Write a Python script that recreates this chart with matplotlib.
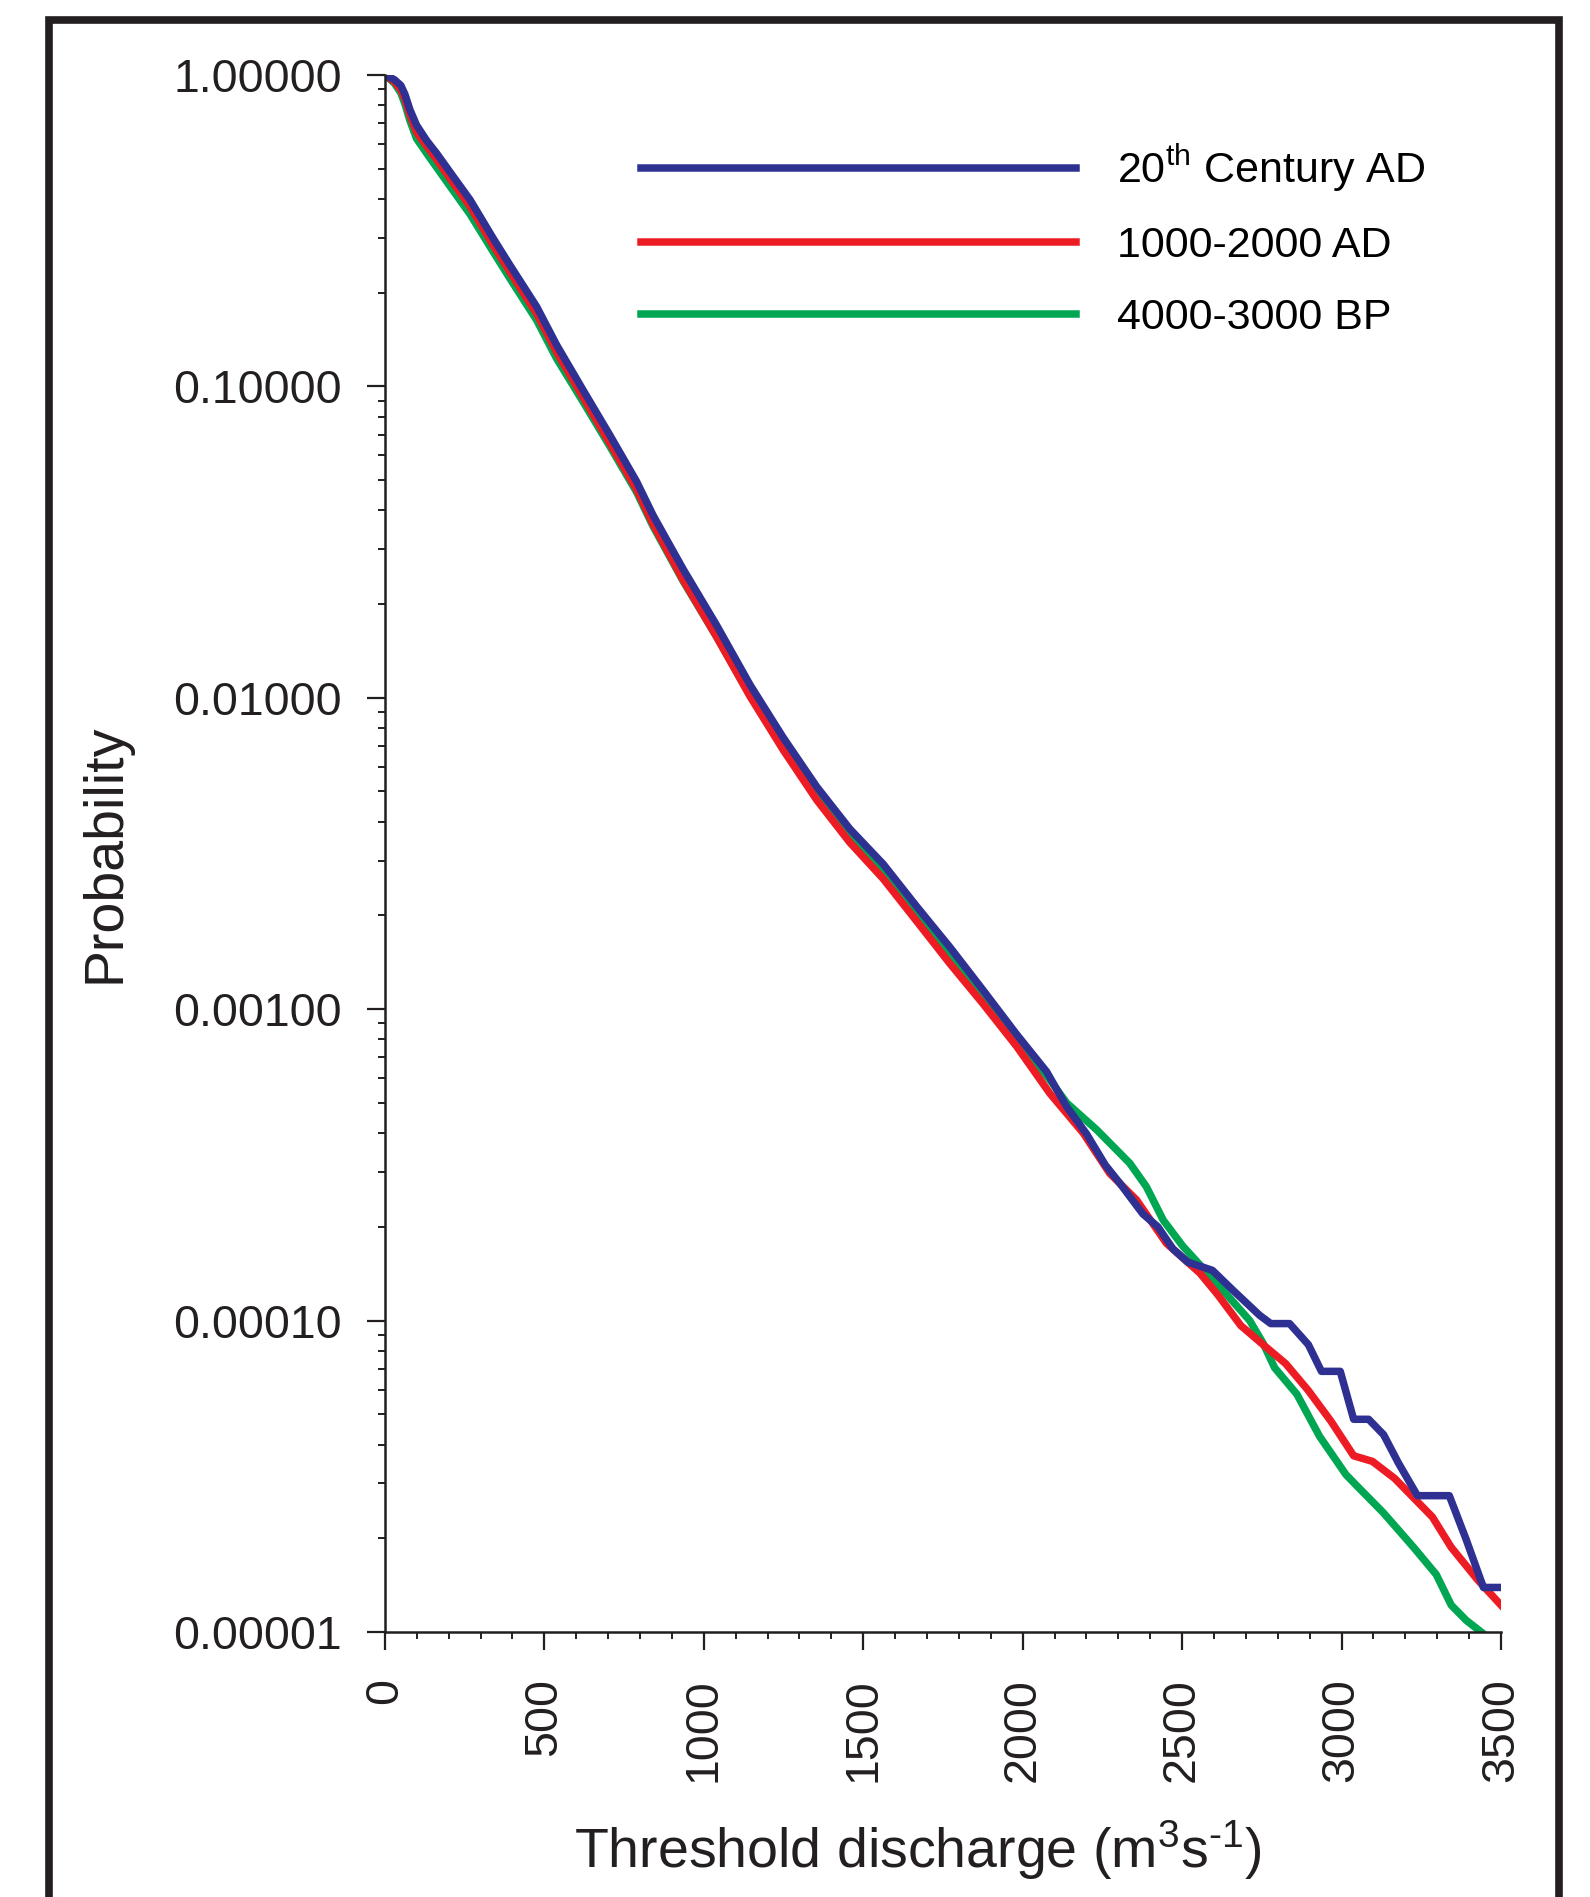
import numpy as np
import matplotlib
matplotlib.use("Agg")
import matplotlib.pyplot as plt
from matplotlib.patches import Rectangle
from matplotlib.ticker import MultipleLocator, LogLocator, FormatStrFormatter, NullFormatter

plt.rcParams["font.family"] = ["Liberation Sans", "DejaVu Sans"]
plt.rcParams["mathtext.fontset"] = "custom"
plt.rcParams["mathtext.rm"] = "Liberation Sans"
plt.rcParams["mathtext.it"] = "Liberation Sans:italic"

# exceedance probability vs threshold discharge
q_20th = [0, 30, 50, 63, 78, 99, 131, 162, 214, 267, 340, 392, 476, 538, 622, 706, 789,
          841, 935, 1040, 1145, 1249, 1354, 1458, 1563, 1667, 1772, 1876, 1981, 2075,
          2138, 2200, 2259, 2306, 2377, 2424, 2471, 2518, 2595, 2660, 2743, 2778, 2837,
          2896, 2937, 2996, 3038, 3085, 3132, 3179, 3238, 3338, 3391, 3445, 3500]
p_20th = [1.0, 0.965, 0.925, 0.865, 0.775, 0.69, 0.615, 0.56, 0.472, 0.397, 0.298, 0.245,
          0.18, 0.136, 0.097, 0.0695, 0.0495, 0.0385, 0.0259, 0.0171, 0.011, 0.00745,
          0.00518, 0.00379, 0.00292, 0.00214, 0.00158, 0.00115, 0.00083, 0.00063,
          0.000486, 0.000398, 0.000316, 0.000275, 0.00022, 0.0002, 0.00017, 0.000154,
          0.000145, 0.000125, 0.000104, 0.0000978, 0.0000978, 0.0000837, 0.0000687,
          0.0000687, 0.0000482, 0.0000482, 0.000043, 0.0000348, 0.0000274, 0.0000274,
          0.0000198, 0.0000139, 0.0000139]

q_1000 = [0, 30, 50, 63, 78, 99, 131, 162, 214, 267, 340, 392, 476, 538, 622, 706, 789,
          841, 935, 1040, 1145, 1249, 1354, 1458, 1563, 1667, 1772, 1876, 1981, 2085,
          2190, 2273, 2357, 2451, 2556, 2612, 2684, 2754, 2825, 2896, 2967, 3038, 3097,
          3167, 3285, 3344, 3427, 3500]
p_1000 = [1.0, 0.95, 0.895, 0.835, 0.745, 0.655, 0.59, 0.535, 0.45, 0.378, 0.283, 0.233,
          0.171, 0.129, 0.092, 0.0655, 0.0467, 0.0361, 0.0239, 0.0157, 0.0101, 0.0068,
          0.0047, 0.00343, 0.00262, 0.00192, 0.0014, 0.00104, 0.00076, 0.000537, 0.0004,
          0.000297, 0.000244, 0.000177, 0.000142, 0.000121, 0.0000964, 0.0000837,
          0.0000727, 0.0000596, 0.0000475, 0.0000368, 0.0000353, 0.0000311, 0.0000234,
          0.0000187, 0.0000147, 0.0000122]

q_4000 = [0, 30, 50, 63, 78, 99, 131, 162, 214, 267, 340, 392, 476, 538, 622, 706, 789,
          841, 935, 1040, 1145, 1249, 1354, 1458, 1563, 1667, 1772, 1876, 1981, 2085,
          2138, 2232, 2336, 2388, 2441, 2503, 2608, 2712, 2754, 2790, 2860, 2931, 3014,
          3049, 3132, 3226, 3297, 3344, 3391, 3438]
p_4000 = [1.0, 0.94, 0.875, 0.805, 0.715, 0.625, 0.56, 0.505, 0.425, 0.357, 0.27, 0.222,
          0.163, 0.123, 0.089, 0.064, 0.0458, 0.0355, 0.0237, 0.0157, 0.0102, 0.0069,
          0.0048, 0.00355, 0.00275, 0.002, 0.00146, 0.0011, 0.0008, 0.000593, 0.0005,
          0.00041, 0.00032, 0.000269, 0.00021, 0.000173, 0.000132, 0.0001, 0.0000846,
          0.0000706, 0.000058, 0.0000425, 0.000032, 0.0000294, 0.0000241, 0.0000187,
          0.0000153, 0.0000122, 0.0000109, 0.00001]

labels = [r"20$^{\mathrm{th}}$ Century AD", "1000-2000 AD", "4000-3000 BP"]
colors = ["#2E3192", "#ED1C24", "#00A651"]
ink = "#231F20"

fig = plt.figure(figsize=(15.9, 18.97), dpi=100)
fig.patches.append(Rectangle((0.031, -0.05), 0.9495, 1.0395, transform=fig.transFigure,
                             fill=False, edgecolor=ink, linewidth=5.5))

ax = fig.add_axes([0.2421, 0.1397, 0.7019, 0.8208])
l3, = ax.plot(q_4000, p_4000, color=colors[2], lw=5.4)
l2, = ax.plot(q_1000, p_1000, color=colors[1], lw=5.4)
l1, = ax.plot(q_20th, p_20th, color=colors[0], lw=5.4)

ax.set_yscale("log")
ax.set_xlim(0, 3500)
ax.set_ylim(1e-5, 1)
for s in ["top", "right"]:
    ax.spines[s].set_visible(False)
for s in ["left", "bottom"]:
    ax.spines[s].set_linewidth(1.8)
    ax.spines[s].set_color(ink)

ax.xaxis.set_major_locator(MultipleLocator(500))
ax.xaxis.set_minor_locator(MultipleLocator(100))
ax.yaxis.set_major_locator(LogLocator(base=10, numticks=10))
ax.yaxis.set_minor_locator(LogLocator(base=10, subs=np.arange(2, 10), numticks=10))
ax.yaxis.set_major_formatter(FormatStrFormatter("%.5f"))
ax.yaxis.set_minor_formatter(NullFormatter())

ax.tick_params(axis="both", which="major", length=13, width=1.6, color=ink,
               labelsize=33.5, labelcolor=ink)
ax.tick_params(axis="both", which="minor", length=5, width=1.4, color=ink)
ax.tick_params(axis="x", which="major", pad=20, labelrotation=90)
ax.tick_params(axis="y", which="major", pad=18)

ax.set_xlabel("Threshold discharge (m$^{3}$s$^{\u2010\\mathrm{1}}$)", fontsize=40,
              color=ink, va="center")
ax.xaxis.set_label_coords(0.478, -0.140)
ax.set_ylabel("Probability", fontsize=40, color=ink, va="center")
ax.yaxis.set_label_coords(-0.25, 0.5)

ax.legend([l1, l2, l3], labels, loc="center left", bbox_to_anchor=(0.2294, 0.8938),
          frameon=False, fontsize=31, handlelength=10.1, handletextpad=0.95,
          labelspacing=0.74, borderpad=0, borderaxespad=0)

fig.savefig("out.png", dpi=100)
